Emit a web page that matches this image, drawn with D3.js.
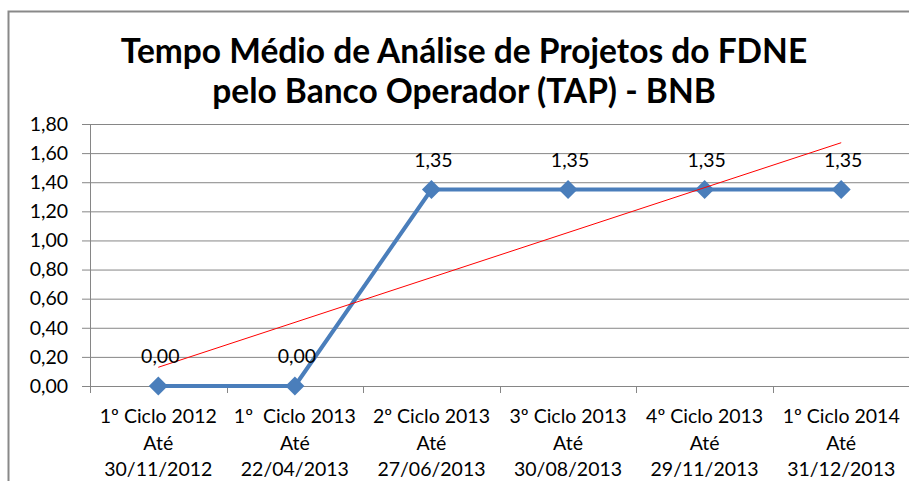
<!DOCTYPE html>
<html>
<head>
<meta charset="utf-8">
<script src="https://cdn.jsdelivr.net/npm/d3@7"></script>
<style>
  body { margin: 0; background: #fff; }
  svg { display: block; font-family: Lato, "Open Sans", sans-serif; }
  tspan { white-space: pre; }
</style>
</head>
<body>
<div id="chart"></div>
<script>
// data
var titleLines = ["Tempo Médio de Análise de Projetos do FDNE", "pelo Banco Operador (TAP) - BNB"];
var categories = [
	["1º Ciclo 2012", "Até", "30/11/2012"],
	["1º  Ciclo 2013", "Até", "22/04/2013"],
	["2º Ciclo 2013", "Até", "27/06/2013"],
	["3º Ciclo 2013", "Até", "30/08/2013"],
	["4º Ciclo 2013", "Até", "29/11/2013"],
	["1º Ciclo 2014", "Até", "31/12/2013"]
];
var values = [0.00, 0.00, 1.35, 1.35, 1.35, 1.35];
var yTicks = [0, 0.2, 0.4, 0.6, 0.8, 1.0, 1.2, 1.4, 1.6, 1.8];

var W = 909, H = 481;
var plotLeft = 90, plotRight = 909.5, plotTop = 124, plotBottom = 386;

var ptBR = d3.formatLocale({decimal: ",", thousands: ".", grouping: [3], currency: ["R$", ""]});
var fmt = ptBR.format(".2f");

var svg = d3.select("#chart").append("svg")
	.attr("width", W)
	.attr("height", H);

// outer chart frame
svg.append("rect")
	.attr("x", 8.5).attr("y", 11.5)
	.attr("width", 1000).attr("height", 600)
	.attr("fill", "none")
	.attr("stroke", "#898989")
	.attr("stroke-width", 2);

// title
svg.append("text")
	.attr("text-anchor", "middle")
	.attr("font-weight", "bold")
	.attr("font-size", 33.5)
	.attr("fill", "#000")
	.selectAll("tspan")
	.data(titleLines)
	.enter().append("tspan")
	.attr("x", 464)
	.attr("y", function(d, i) { return 63 + i * 40; })
	.text(function(d) { return d; });

var x = d3.scaleBand()
	.domain(d3.range(categories.length))
	.range([plotLeft, plotRight]);

var y = d3.scaleLinear()
	.domain([0, 1.8])
	.range([plotBottom, plotTop]);

// horizontal gridlines
svg.append("g")
	.attr("class", "grid")
	.attr("transform", "translate(" + plotLeft + ",0)")
	.call(d3.axisRight(y).tickValues(yTicks).tickSize(plotRight - plotLeft).tickFormat(""))
	.call(function(g) {
		g.select(".domain").remove();
		g.selectAll("line").attr("stroke", "#868686");
	});

// y axis
svg.append("g")
	.attr("transform", "translate(" + plotLeft + ",0)")
	.call(d3.axisLeft(y).tickValues(yTicks).tickSizeInner(8).tickSizeOuter(0).tickPadding(14).tickFormat(fmt))
	.call(function(g) {
		g.select(".domain").attr("stroke", "#868686").attr("d", "M0.5," + plotTop + "V" + (plotBottom + 7));
		g.selectAll("line").attr("stroke", "#868686");
		g.selectAll("text")
			.attr("font-family", "Lato, 'Open Sans', sans-serif")
			.attr("font-size", 19.5)
			.attr("fill", "#000");
	});

// x axis: tick marks on category boundaries
var boundaries = x.domain().map(function(d) { return x(d); }).concat([x.range()[1]]);
svg.append("g")
	.selectAll("line")
	.data(boundaries)
	.enter().append("line")
	.attr("x1", function(d) { return Math.round(d) + 0.5; })
	.attr("x2", function(d) { return Math.round(d) + 0.5; })
	.attr("y1", plotBottom)
	.attr("y2", plotBottom + 7)
	.attr("stroke", "#868686");

// category labels
svg.append("g")
	.selectAll("text")
	.data(categories)
	.enter().append("text")
	.attr("text-anchor", "middle")
	.attr("font-size", 19.5)
	.attr("fill", "#000")
	.each(function(d, i) {
		var cx = x(i) + x.bandwidth() / 2;
		d3.select(this).selectAll("tspan")
			.data(d)
			.enter().append("tspan")
			.attr("x", cx)
			.attr("y", function(s, j) { return 423 + j * 26.5; })
			.text(function(s) { return s; });
	});

var cxOf = function(i) { return x(i) + x.bandwidth() / 2; };

// main series line
svg.append("path")
	.datum(values)
	.attr("fill", "none")
	.attr("stroke", "#4A7EBB")
	.attr("stroke-width", 4)
	.attr("stroke-linejoin", "round")
	.attr("d", d3.line()
		.x(function(d, i) { return cxOf(i); })
		.y(function(d) { return y(d); }));

// markers
svg.append("g")
	.selectAll("path")
	.data(values)
	.enter().append("path")
	.attr("transform", function(d, i) { return "translate(" + cxOf(i) + "," + y(d) + ")"; })
	.attr("d", "M0,-9.5L9.5,0L0,9.5L-9.5,0Z")
	.attr("fill", "#4A7EBB");

// linear trendline (least squares over category index)
var n = values.length;
var xs = d3.range(1, n + 1);
var mx = d3.mean(xs), my = d3.mean(values);
var slope = d3.sum(xs, function(v, i) { return (v - mx) * (values[i] - my); }) /
	d3.sum(xs, function(v) { return (v - mx) * (v - mx); });
var icpt = my - slope * mx;
svg.append("line")
	.attr("x1", cxOf(0)).attr("y1", y(icpt + slope * 1))
	.attr("x2", cxOf(n - 1)).attr("y2", y(icpt + slope * n))
	.attr("stroke", "#FF0000")
	.attr("stroke-width", 1);

// data labels
svg.append("g")
	.selectAll("text")
	.data(values)
	.enter().append("text")
	.attr("text-anchor", "middle")
	.attr("font-size", 19.5)
	.attr("fill", "#000")
	.attr("x", function(d, i) { return cxOf(i) + 2; })
	.attr("y", function(d) { return y(d) - 23; })
	.text(function(d) { return fmt(d); });
</script>
</body>
</html>
